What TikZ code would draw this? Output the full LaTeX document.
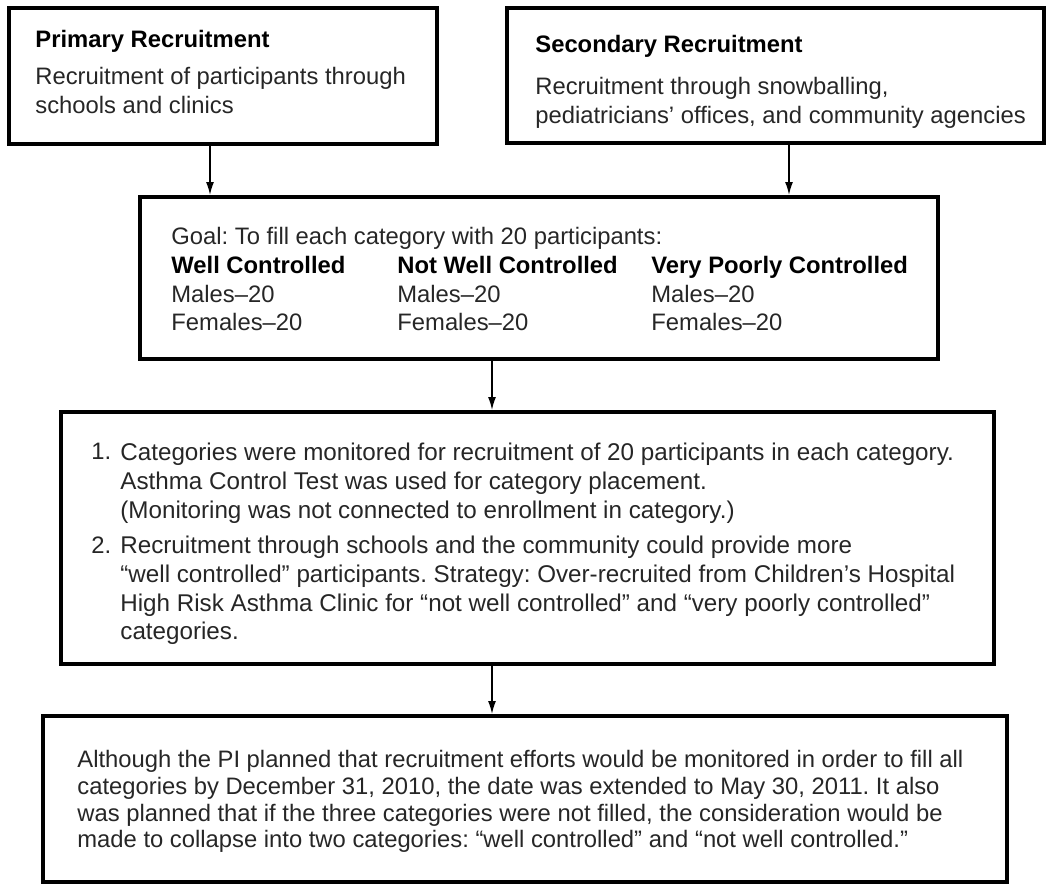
\documentclass[tikz,border=0pt]{standalone}
\usepackage{fontspec}
\setmainfont{Liberation Sans}
\usetikzlibrary{arrows.meta}
\frenchspacing

\begin{document}
\begin{tikzpicture}[x=0.5pt,y=-0.5pt,
  box/.style={draw,line width=2pt,rectangle,inner sep=0pt},
  txt/.style={anchor=north west,inner sep=0pt,align=left,text=black!85,
    font=\fontsize{11.9pt}{14.25pt}\selectfont},
  hd/.style={txt,text=black,font=\fontsize{11.9pt}{14.25pt}\selectfont\bfseries},
  arr/.style={line width=0.75pt,line cap=round,-{Latex[length=6.5pt,width=4pt]}}]
  \useasboundingbox (0,0) rectangle (1050,884);
  % boxes
  \node[box,minimum width=214pt,minimum height=68pt] (primary) at (223,76) {};
  \node[box,minimum width=268.5pt,minimum height=67.5pt] (secondary) at (775.5,75.5) {};
  \node[box,minimum width=399pt,minimum height=81pt] (goal) at (539,278) {};
  \node[box,minimum width=466.5pt,minimum height=126pt] (monitor) at (527.5,538) {};
  \node[box,minimum width=482pt,minimum height=83pt] (deadline) at (525,799) {};
  % texts
  \node[hd] (primaryhead) at (35,30) {Primary Recruitment};
  \node[txt] (primarytext) at (35,67) {Recruitment of participants through\\schools and clinics};
  \node[hd] (secondaryhead) at (535,35) {Secondary Recruitment};
  \node[txt] (secondarytext) at (535,77) {Recruitment through snowballing,\\pediatricians’ offices, and community agencies};
  \node[txt] (goaltext) at (171,227) {Goal: To fill each category with 20 participants:};
  \node[txt] (wellcol) at (171,256) {\textcolor{black}{\bfseries Well Controlled}\\Males–20\\Females–20};
  \node[txt] (notwellcol) at (397,256) {\textcolor{black}{\bfseries Not Well Controlled}\\Males–20\\Females–20};
  \node[txt] (poorcol) at (651,256) {\textcolor{black}{\bfseries Very Poorly Controlled}\\Males–20\\Females–20};
  \node[txt] (itemonenum) at (91,443) {1.};
  \node[txt,font=\fontsize{12.1pt}{14.3pt}\selectfont] (itemone) at (120,443) {Categories were monitored for recruitment of 20 participants in each category.\\Asthma Control Test was used for category placement.\\(Monitoring was not connected to enrollment in category.)};
  \node[txt] (itemtwonum) at (91,536) {2.};
  \node[txt,font=\fontsize{12.1pt}{14.3pt}\selectfont] (itemtwo) at (120,536) {Recruitment through schools and the community could provide more\\“well controlled” participants. Strategy: Over-recruited from Children’s Hospital\\High Risk Asthma Clinic for “not well controlled” and “very poorly controlled”\\categories.};
  \node[txt,font=\fontsize{11.9pt}{13.35pt}\selectfont] (deadlinetext) at (77,750) {Although the PI planned that recruitment efforts would be monitored in order to fill all\\categories by December 31, 2010, the date was extended to May 30, 2011. It also\\was planned that if the three categories were not filled, the consideration would be\\made to collapse into two categories: “well controlled” and “not well controlled.”};
  % arrows
  \draw[arr] ([xshift=-6.5pt]primary.south) -- ([xshift=-6.5pt]primary.south |- goal.north);
  \draw[arr] ([xshift=6.75pt]secondary.south) -- ([xshift=6.75pt]secondary.south |- goal.north);
  \draw[arr] ([xshift=-23.5pt]goal.south) -- ([xshift=-23.5pt]goal.south |- monitor.north);
  \draw[arr] ([xshift=-17.75pt]monitor.south) -- ([xshift=-17.75pt]monitor.south |- deadline.north);
\end{tikzpicture}
\end{document}
